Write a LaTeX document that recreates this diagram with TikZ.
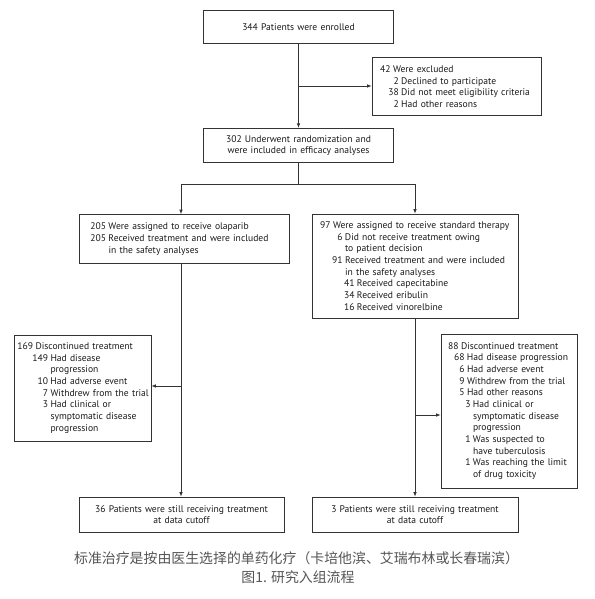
\documentclass[tikz,border=0pt]{standalone}
\usepackage{fontspec}
\setmainfont{PT Sans}
\newfontfamily\cjkfont{Noto Sans CJK SC}
\usetikzlibrary{arrows.meta,calc}
\definecolor{linec}{HTML}{333333}
\definecolor{txtc}{HTML}{1A1A1A}
\definecolor{capc}{HTML}{555555}
\newcommand\numline[3]{\makebox[#1][r]{#2\hspace{2.4pt}}\mbox{#3}}
\newcommand\contline[2]{\hspace*{#1}\mbox{#2}}
\tikzset{
  box/.style={draw=linec, line width=0.75pt, inner ysep=0pt, text=txtc,
    font=\fontsize{9.6}{11.67}\selectfont},
  cbox/.style n args={3}{box, inner xsep=4pt, align=center,
    minimum width=#1, minimum height=#2, text width=#3},
  lbox/.style n args={3}{box, inner xsep=#3, align=left,
    minimum width=#1, minimum height=#2, text width=#1-2*#3},
  arr/.style={draw=linec, line width=0.75pt, -{Latex[length=4.5pt,width=3.6pt]}},
  ln/.style={draw=linec, line width=0.75pt},
  captext/.style={text=capc, font=\cjkfont\fontsize{13.9}{16}\selectfont, inner sep=0pt}
}
\begin{document}
\begin{tikzpicture}[x=1pt,y=-1pt]
\useasboundingbox (0,0) rectangle (594,599);
\fill[white] (0,0) rectangle (594,599);

\coordinate (lx) at (181,0);
\coordinate (rx) at (415,0);

\node[cbox={190.5pt}{33.3pt}{182pt}] (top) at (298.5,26.7) {344 Patients were enrolled};

\node[lbox={169pt}{58.4pt}{8.7pt}] (excl) at (456.5,86.5) {%
\numline{12.3pt}{42}{Were excluded}\\
\numline{20.5pt}{2}{Declined to participate}\\
\numline{20.5pt}{38}{Did not meet eligibility criteria}\\
\numline{20.5pt}{2}{Had other reasons}};

\node[cbox={190.5pt}{34.4pt}{182pt}] (rand) at (298.5,145.5) {302 Underwent randomization and\\were included in efficacy analyses};

\node[lbox={210pt}{49pt}{13pt}] (leftA) at (184,239) {%
\numline{16.5pt}{205}{Were assigned to receive olaparib}\\
\numline{16.5pt}{205}{Received treatment and were included}\\
\contline{16.5pt}{in the safety analyses}};

\node[lbox={206pt}{104pt}{9pt}] (rightA) at (415,266) {%
\numline{12pt}{97}{Were assigned to receive standard therapy}\\
\numline{24pt}{6}{Did not receive treatment owing}\\
\contline{24pt}{to patient decision}\\
\numline{24pt}{91}{Received treatment and were included}\\
\contline{24pt}{in the safety analyses}\\
\numline{36pt}{41}{Received capecitabine}\\
\numline{36pt}{34}{Received eribulin}\\
\numline{36pt}{16}{Received vinorelbine}};

\node[lbox={137pt}{106pt}{7.5pt}] (leftD) at (82.5,388) {%
\numline{14pt}{169}{Discontinued treatment}\\
\numline{29pt}{149}{Had disease}\\
\contline{29pt}{progression}\\
\numline{29pt}{10}{Had adverse event}\\
\numline{29pt}{7}{Withdrew from the trial}\\
\numline{29pt}{3}{Had clinical or}\\
\contline{29pt}{symptomatic disease}\\
\contline{29pt}{progression}};

\node[lbox={136pt}{154pt}{8pt}] (rightD) at (509,411) {%
\numline{12pt}{88}{Discontinued treatment}\\
\numline{18pt}{68}{Had disease progression}\\
\numline{18pt}{6}{Had adverse event}\\
\numline{18pt}{9}{Withdrew from the trial}\\
\numline{18pt}{5}{Had other reasons}\\
\numline{24pt}{3}{Had clinical or}\\
\contline{24pt}{symptomatic disease}\\
\contline{24pt}{progression}\\
\numline{24pt}{1}{Was suspected to}\\
\contline{24pt}{have tuberculosis}\\
\numline{24pt}{1}{Was reaching the limit}\\
\contline{24pt}{of drug toxicity}};

\node[cbox={205pt}{35pt}{197pt}] (leftB) at (181.5,514.5) {36 Patients were still receiving treatment\\at data cutoff};
\node[cbox={206pt}{35pt}{198pt}] (rightB) at (415,514.5) {3 Patients were still receiving treatment\\at data cutoff};

\node[captext] (cap1) at (296.5,558) {标准治疗是按由医生选择的单药化疗（卡培他滨、艾瑞布林或长春瑞滨）};
\node[captext] (cap2) at (298,577) {图1. 研究入组流程};

% connectors
\draw[arr] (top) -- (rand);
\coordinate (ex) at (298.5,86);
\draw[arr] (ex) -- (ex -| excl.west);
\coordinate (sp) at (298.5,184);
\draw[ln] (rand.south) -- (sp);
\draw[arr] (sp) -| (lx |- leftA.north);
\draw[arr] (sp) -| (rx |- rightA.north);
\draw[arr] (lx |- leftA.south) -- (lx |- leftB.north);
\draw[arr] (rx |- rightA.south) -- (rx |- rightB.north);
\coordinate (lp) at (181,386);
\draw[arr] (lp) -- (lp -| leftD.east);
\coordinate (rp) at (415,415);
\draw[arr] (rp) -- (rp -| rightD.west);
\end{tikzpicture}
\end{document}
